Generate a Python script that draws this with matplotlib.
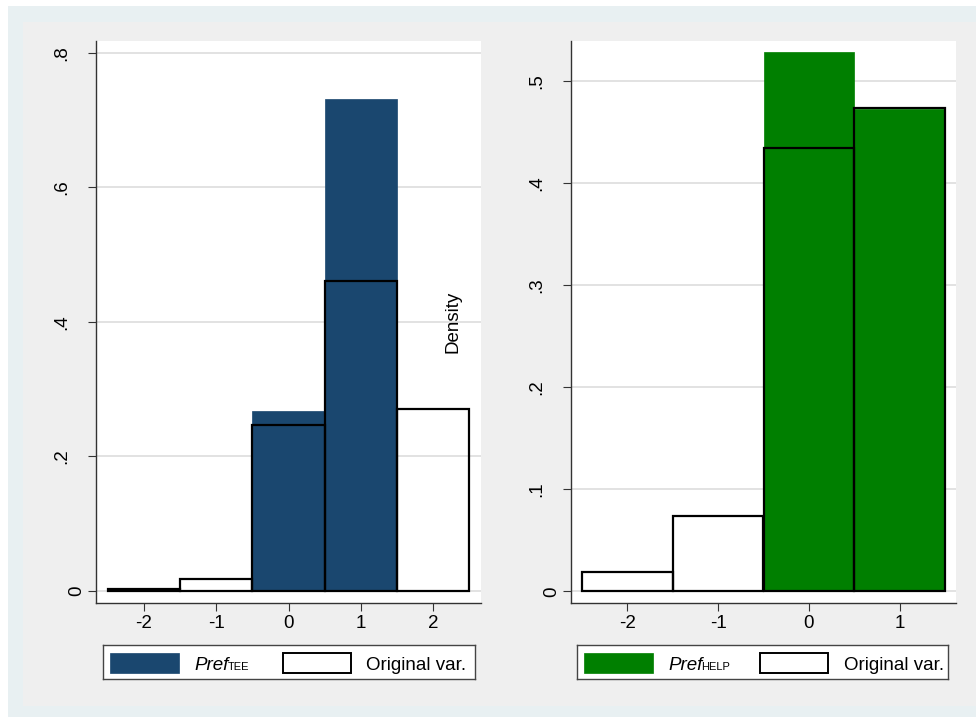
import matplotlib.pyplot as plt
import matplotlib.patches as patches
import matplotlib.transforms as mtransforms

plt.rcParams['font.family'] = ['Liberation Sans', 'DejaVu Sans']

# histogram bins (bar centres) and densities
bins_tee = [-2, -1, 0, 1, 2]
pref_tee = [0.0, 0.0, 0.268, 0.732, 0.0]
orig_tee = [0.003, 0.017, 0.246, 0.461, 0.270]

bins_help = [-2, -1, 0, 1]
pref_help = [0.0, 0.0, 0.528, 0.472]
orig_help = [0.019, 0.074, 0.434, 0.473]

yticks_tee = [0, 0.2, 0.4, 0.6, 0.8]
ylabels_tee = ['0', '.2', '.4', '.6', '.8']
yticks_help = [0, 0.1, 0.2, 0.3, 0.4, 0.5]
ylabels_help = ['0', '.1', '.2', '.3', '.4', '.5']

W, H = 976, 717
fig = plt.figure(figsize=(W / 100, H / 100), dpi=100)
fig.patch.set_facecolor('white')


def px_box(x0, y0, x1, y1):
    # pixel box (top-left origin) -> figure fraction rect
    return [x0 / W, 1 - y1 / H, (x1 - x0) / W, (y1 - y0) / H]


# outer frame and graph region
fig.add_artist(patches.Rectangle((8 / W, 0), 1, 1 - 6 / H, transform=fig.transFigure,
                                 facecolor='#e8f0f2', edgecolor='none', zorder=-10))
fig.add_artist(patches.Rectangle((23 / W, 1 - 706 / H), 1, (706 - 22) / H,
                                 transform=fig.transFigure,
                                 facecolor='#efefef', edgecolor='none', zorder=-9))


def panel(rect, bins, pref, orig, color, ylim, xlim, yticks, ylabels):
    ax = fig.add_axes(rect)
    ax.set_facecolor('white')
    ax.bar(bins, pref, width=1.0, color=color, edgecolor=color, linewidth=0.5, zorder=2)
    ax.bar(bins, orig, width=1.0, facecolor='none', edgecolor='black', linewidth=1.6, zorder=3)
    ax.set_xlim(*xlim)
    ax.set_ylim(*ylim)
    ax.set_xticks(bins)
    ax.set_xticklabels([str(b) for b in bins], fontsize=13.5)
    ax.set_yticks(yticks)
    ax.set_yticklabels([])
    ax.grid(axis='y', color='#e2e2e2', linewidth=1.4, zorder=0)
    ax.set_axisbelow(True)
    for s in ['top', 'right']:
        ax.spines[s].set_visible(False)
    for s in ['left', 'bottom']:
        ax.spines[s].set_color('#333333')
        ax.spines[s].set_linewidth(1.0)
    ax.tick_params(axis='both', length=5.8, width=0.8, color='#333333')
    ax.tick_params(axis='x', pad=2.5)
    base = mtransforms.blended_transform_factory(ax.transAxes, ax.transData)
    for v, s in zip(yticks, ylabels):
        off = -15 if s == '0' else -30
        tr = mtransforms.offset_copy(base, fig=fig, x=off, y=0, units='dots')
        ax.text(0, v, s, transform=tr, rotation=90, rotation_mode='anchor',
                ha='center', va='baseline', fontsize=13.5)
    return ax


panel(px_box(96, 41, 481, 603), bins_tee, pref_tee, orig_tee, '#1a476f',
      (-0.0183, 0.818), (-2.66, 2.66), yticks_tee, ylabels_tee)
panel(px_box(571, 41, 956, 603), bins_help, pref_help, orig_help, '#007f00',
      (-0.0114, 0.539), (-2.62, 1.62), yticks_help, ylabels_help)

fig.text(453 / W, 1 - 322 / H, 'Density', rotation=90, ha='center', va='center', fontsize=13.5)


def legend_box(x0, x1, color, sub, p1, t1, p2, t2):
    y0, y1 = 645, 679
    lax = fig.add_axes(px_box(x0, y0, x1, y1))
    lax.set_xlim(0, x1 - x0)
    lax.set_ylim(y1 - y0, 0)
    lax.set_xticks([])
    lax.set_yticks([])
    lax.set_facecolor('white')
    for s in lax.spines.values():
        s.set_color('#444444')
        s.set_linewidth(1.0)
    lax.add_patch(patches.Rectangle((p1, 7.5), 69, 20, facecolor=color, edgecolor=color, lw=0.5))
    lax.add_patch(patches.Rectangle((p2, 7.5), 68, 20, facecolor='white', edgecolor='black', lw=1.4))
    t = lax.text(t1, 24.5, 'Pref', fontsize=13.5, style='italic', va='baseline', ha='left')
    fig.canvas.draw()
    bb = t.get_window_extent()
    x_end = lax.transData.inverted().transform((bb.x1, 0))[0]
    lax.text(x_end - 1, 24.5, sub, fontsize=8, va='baseline', ha='left')
    lax.text(t2, 24.5, 'Original var.', fontsize=13.5, va='baseline', ha='left')


legend_box(103, 475, '#1a476f', 'TEE', 7, 91, 180, 263)
legend_box(577, 948, '#007f00', 'HELP', 7, 91, 183, 267)

fig.savefig('out.png', dpi=100)
